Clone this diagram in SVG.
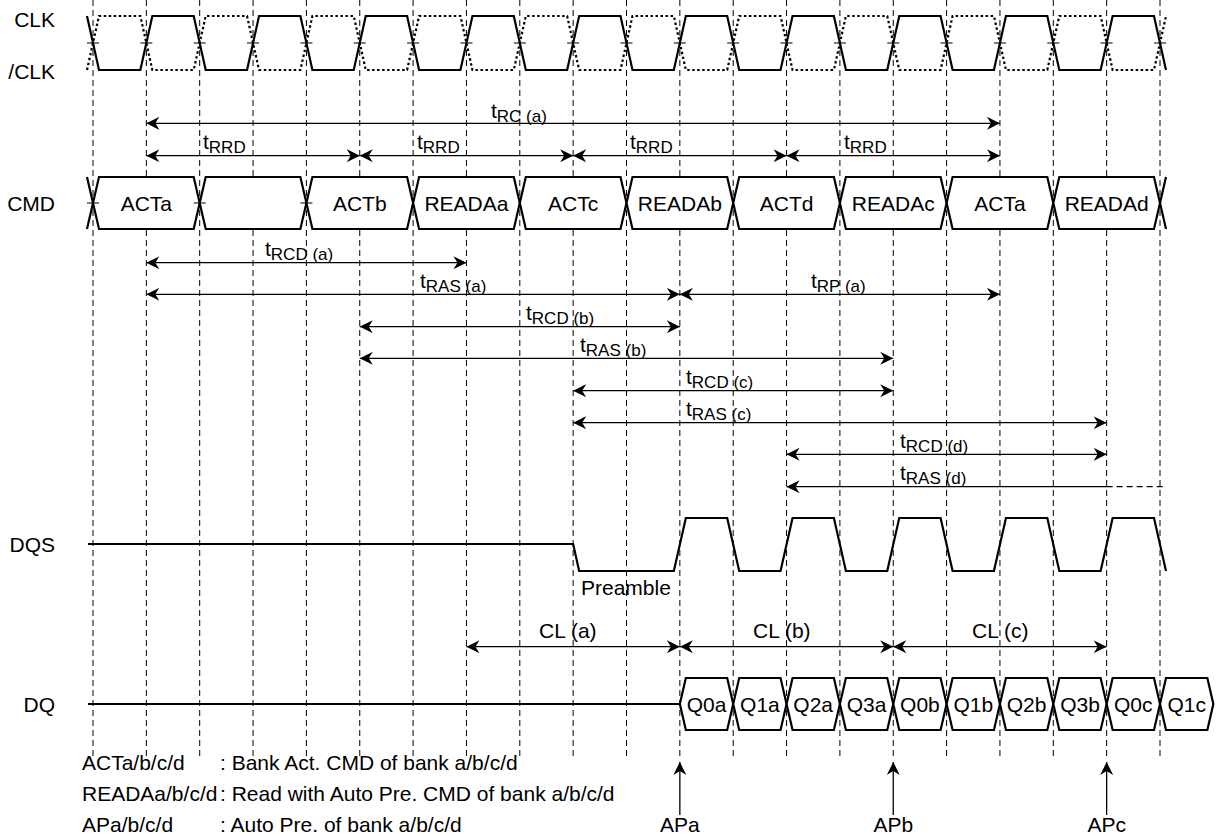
<svg xmlns="http://www.w3.org/2000/svg" width="1218" height="836" viewBox="0 0 1218 836">
<style>
text{font-family:"Liberation Sans",Arial,Helvetica,sans-serif;fill:#000}
.lbl{font-size:21px}
.sub{font-size:17px}
.mid{text-anchor:middle}
.end{text-anchor:end}
.grid{stroke:#000;stroke-width:1;stroke-dasharray:6 4;fill:none}
.sig{stroke:#000;stroke-width:2.2;fill:none;stroke-linejoin:miter}
.dot{stroke:#000;stroke-width:2.2;fill:none;stroke-dasharray:2.5 2.5}
.bus{stroke:#000;stroke-width:2.2;fill:#fff}
.tick{stroke:#000;stroke-width:1.2;fill:none}
.arw{stroke:#000;stroke-width:1.3;fill:none;marker-start:url(#ah);marker-end:url(#ah)}
.arwL{stroke:#000;stroke-width:1.3;fill:none;marker-start:url(#ah)}
.arwU{stroke:#000;stroke-width:1.3;fill:none;marker-end:url(#ah)}
.dsh{stroke:#000;stroke-width:1.3;fill:none;stroke-dasharray:6 4}
</style>
<defs>
<marker id="ah" viewBox="0 0 13 13" refX="13" refY="6.5" markerWidth="13" markerHeight="13" markerUnits="userSpaceOnUse" orient="auto-start-reverse">
<path d="M0,0 L13,6.5 L0,13 L4,6.5 Z" fill="#000"/>
</marker>
</defs>
<rect width="1218" height="836" fill="#fff"/>
<g id="grid">
<path class="grid" d="M93,0V758 M146.35,0V758 M199.7,0V758 M253.05,0V758 M306.4,0V758 M359.75,0V758 M413.1,0V758 M466.45,0V758 M519.8,0V758 M573.15,0V758 M626.5,0V758 M679.85,0V758 M733.2,0V758 M786.55,0V758 M839.9,0V758 M893.25,0V758 M946.6,0V758 M999.95,0V758 M1053.3,0V758 M1106.65,0V758 M1160,0V758"/>
</g>
<g id="clk">
<text class="lbl end" x="55" y="27">CLK</text>
<text class="lbl end" x="55" y="79">/CLK</text>
<path class="dot" d="M87,70 L99,16 L140.35,16 L152.35,70 L193.7,70 L205.7,16 L247.05,16 L259.05,70 L300.4,70 L312.4,16 L353.75,16 L365.75,70 L407.1,70 L419.1,16 L460.45,16 L472.45,70 L513.8,70 L525.8,16 L567.15,16 L579.15,70 L620.5,70 L632.5,16 L673.85,16 L685.85,70 L727.2,70 L739.2,16 L780.55,16 L792.55,70 L833.9,70 L845.9,16 L887.25,16 L899.25,70 L940.6,70 L952.6,16 L993.95,16 L1005.95,70 L1047.3,70 L1059.3,16 L1100.65,16 L1112.65,70 L1154,70 L1166,16"/>
<path class="sig" d="M87,16 L99,70 L140.35,70 L152.35,16 L193.7,16 L205.7,70 L247.05,70 L259.05,16 L300.4,16 L312.4,70 L353.75,70 L365.75,16 L407.1,16 L419.1,70 L460.45,70 L472.45,16 L513.8,16 L525.8,70 L567.15,70 L579.15,16 L620.5,16 L632.5,70 L673.85,70 L685.85,16 L727.2,16 L739.2,70 L780.55,70 L792.55,16 L833.9,16 L845.9,70 L887.25,70 L899.25,16 L940.6,16 L952.6,70 L993.95,70 L1005.95,16 L1047.3,16 L1059.3,70 L1100.65,70 L1112.65,16 L1154,16 L1166,70"/>
<path class="tick" d="M87,43h12 M140.35,43h12 M193.7,43h12 M247.05,43h12 M300.4,43h12 M353.75,43h12 M407.1,43h12 M460.45,43h12 M513.8,43h12 M567.15,43h12 M620.5,43h12 M673.85,43h12 M727.2,43h12 M780.55,43h12 M833.9,43h12 M887.25,43h12 M940.6,43h12 M993.95,43h12 M1047.3,43h12 M1100.65,43h12 M1154,43h12"/>
</g>
<g id="cmd">
<text class="lbl end" x="55" y="211">CMD</text>
<path class="sig" d="M87,177 L93,203 L87,229 M1166,177 L1160,203 L1166,229"/>
<path class="bus" d="M93,203 L99,177 L193.7,177 L199.7,203 L193.7,229 L99,229 Z"/>
<path class="bus" d="M199.7,203 L205.7,177 L300.4,177 L306.4,203 L300.4,229 L205.7,229 Z"/>
<path class="bus" d="M306.4,203 L312.4,177 L407.1,177 L413.1,203 L407.1,229 L312.4,229 Z"/>
<path class="bus" d="M413.1,203 L419.1,177 L513.8,177 L519.8,203 L513.8,229 L419.1,229 Z"/>
<path class="bus" d="M519.8,203 L525.8,177 L620.5,177 L626.5,203 L620.5,229 L525.8,229 Z"/>
<path class="bus" d="M626.5,203 L632.5,177 L727.2,177 L733.2,203 L727.2,229 L632.5,229 Z"/>
<path class="bus" d="M733.2,203 L739.2,177 L833.9,177 L839.9,203 L833.9,229 L739.2,229 Z"/>
<path class="bus" d="M839.9,203 L845.9,177 L940.6,177 L946.6,203 L940.6,229 L845.9,229 Z"/>
<path class="bus" d="M946.6,203 L952.6,177 L1047.3,177 L1053.3,203 L1047.3,229 L952.6,229 Z"/>
<path class="bus" d="M1053.3,203 L1059.3,177 L1154,177 L1160,203 L1154,229 L1059.3,229 Z"/>
<path class="tick" d="M87,203h12 M193.7,203h12 M300.4,203h12"/>
<text class="lbl mid" x="146.35" y="210.5">ACTa</text>
<text class="lbl mid" x="359.75" y="210.5">ACTb</text>
<text class="lbl mid" x="466.45" y="210.5">READAa</text>
<text class="lbl mid" x="573.15" y="210.5">ACTc</text>
<text class="lbl mid" x="679.85" y="210.5">READAb</text>
<text class="lbl mid" x="786.55" y="210.5">ACTd</text>
<text class="lbl mid" x="893.25" y="210.5">READAc</text>
<text class="lbl mid" x="999.95" y="210.5">ACTa</text>
<text class="lbl mid" x="1106.65" y="210.5">READAd</text>
</g>
<g id="dqs">
<text class="lbl end" x="55" y="552">DQS</text>
<path class="sig" d="M88,544 L573.15,544 L579.15,571 L673.85,571 L685.85,518 L727.2,518 L739.2,571 L780.55,571 L792.55,518 L833.9,518 L845.9,571 L887.25,571 L899.25,518 L940.6,518 L952.6,571 L993.95,571 L1005.95,518 L1047.3,518 L1059.3,571 L1100.65,571 L1112.65,518 L1154,518 L1166,571"/>
<text class="lbl" x="581" y="595">Preamble</text>
</g>
<g id="dq">
<text class="lbl end" x="55" y="712">DQ</text>
<path class="sig" d="M88,704 L679.85,704"/>
<path class="bus" d="M679.85,704 L685.85,678 L727.2,678 L733.2,704 L727.2,730 L685.85,730 Z"/>
<path class="bus" d="M733.2,704 L739.2,678 L780.55,678 L786.55,704 L780.55,730 L739.2,730 Z"/>
<path class="bus" d="M786.55,704 L792.55,678 L833.9,678 L839.9,704 L833.9,730 L792.55,730 Z"/>
<path class="bus" d="M839.9,704 L845.9,678 L887.25,678 L893.25,704 L887.25,730 L845.9,730 Z"/>
<path class="bus" d="M893.25,704 L899.25,678 L940.6,678 L946.6,704 L940.6,730 L899.25,730 Z"/>
<path class="bus" d="M946.6,704 L952.6,678 L993.95,678 L999.95,704 L993.95,730 L952.6,730 Z"/>
<path class="bus" d="M999.95,704 L1005.95,678 L1047.3,678 L1053.3,704 L1047.3,730 L1005.95,730 Z"/>
<path class="bus" d="M1053.3,704 L1059.3,678 L1100.65,678 L1106.65,704 L1100.65,730 L1059.3,730 Z"/>
<path class="bus" d="M1106.65,704 L1112.65,678 L1154,678 L1160,704 L1154,730 L1112.65,730 Z"/>
<path class="bus" d="M1160,704 L1166,678 L1207.35,678 L1213.35,704 L1207.35,730 L1166,730 Z"/>
<text class="lbl mid" x="706.5" y="711.5">Q0a</text>
<text class="lbl mid" x="759.9" y="711.5">Q1a</text>
<text class="lbl mid" x="813.2" y="711.5">Q2a</text>
<text class="lbl mid" x="866.6" y="711.5">Q3a</text>
<text class="lbl mid" x="919.9" y="711.5">Q0b</text>
<text class="lbl mid" x="973.3" y="711.5">Q1b</text>
<text class="lbl mid" x="1026.6" y="711.5">Q2b</text>
<text class="lbl mid" x="1080" y="711.5">Q3b</text>
<text class="lbl mid" x="1133.3" y="711.5">Q0c</text>
<text class="lbl mid" x="1186.7" y="711.5">Q1c</text>
</g>
<g id="connectors">
<path class="arw" d="M146.35,123.3 H999.95"/>
<path class="arw" d="M146.35,155.7 H359.75"/>
<path class="arw" d="M359.75,155.7 H573.15"/>
<path class="arw" d="M573.15,155.7 H786.55"/>
<path class="arw" d="M786.55,155.7 H999.95"/>
<path class="arw" d="M146.35,262.7 H466.45"/>
<path class="arw" d="M146.35,294.3 H679.85"/>
<path class="arw" d="M679.85,294.3 H999.95"/>
<path class="arw" d="M359.75,326.7 H679.85"/>
<path class="arw" d="M359.75,358.3 H893.25"/>
<path class="arw" d="M573.15,390.7 H893.25"/>
<path class="arw" d="M573.15,422.7 H1106.65"/>
<path class="arw" d="M786.55,454.3 H1106.65"/>
<path class="arwL" d="M786.55,486.7 H1106.65"/>
<path class="dsh" d="M1106.65,486.7 H1166"/>
<path class="arw" d="M466.45,646.7 H679.85"/>
<path class="arw" d="M679.85,646.7 H893.25"/>
<path class="arw" d="M893.25,646.7 H1106.65"/>
<path class="arwU" d="M679.85,815 V762"/>
<path class="arwU" d="M893.25,815 V762"/>
<path class="arwU" d="M1106.65,815 V762"/>
</g>
<g id="timing-labels">
<text class="lbl" x="491" y="118">t<tspan class="sub" dy="4">RC (a)</tspan></text>
<text class="lbl" x="203" y="149">t<tspan class="sub" dy="4">RRD</tspan></text>
<text class="lbl" x="417" y="149">t<tspan class="sub" dy="4">RRD</tspan></text>
<text class="lbl" x="630" y="149">t<tspan class="sub" dy="4">RRD</tspan></text>
<text class="lbl" x="844" y="149">t<tspan class="sub" dy="4">RRD</tspan></text>
<text class="lbl" x="265" y="256">t<tspan class="sub" dy="4">RCD (a)</tspan></text>
<text class="lbl" x="420" y="288">t<tspan class="sub" dy="4">RAS (a)</tspan></text>
<text class="lbl" x="811" y="288">t<tspan class="sub" dy="4">RP (a)</tspan></text>
<text class="lbl" x="526" y="320">t<tspan class="sub" dy="4">RCD (b)</tspan></text>
<text class="lbl" x="580" y="352">t<tspan class="sub" dy="4">RAS (b)</tspan></text>
<text class="lbl" x="686" y="384">t<tspan class="sub" dy="4">RCD (c)</tspan></text>
<text class="lbl" x="686" y="416">t<tspan class="sub" dy="4">RAS (c)</tspan></text>
<text class="lbl" x="900" y="448">t<tspan class="sub" dy="4">RCD (d)</tspan></text>
<text class="lbl" x="900" y="480">t<tspan class="sub" dy="4">RAS (d)</tspan></text>
<text class="lbl" x="539" y="638">CL (a)</text>
<text class="lbl" x="753" y="638">CL (b)</text>
<text class="lbl" x="972" y="638">CL (c)</text>
<text class="lbl mid" x="679.85" y="832">APa</text>
<text class="lbl mid" x="893.25" y="832">APb</text>
<text class="lbl mid" x="1106.65" y="832">APc</text>
</g>
<g id="legend">
<text class="lbl" x="82" y="770">ACTa/b/c/d<tspan x="220">: Bank Act. CMD of bank a/b/c/d</tspan></text>
<text class="lbl" x="82" y="801">READAa/b/c/d<tspan x="220">: Read with Auto Pre. CMD of bank a/b/c/d</tspan></text>
<text class="lbl" x="82" y="832">APa/b/c/d<tspan x="220">: Auto Pre. of bank a/b/c/d</tspan></text>
</g>
</svg>
